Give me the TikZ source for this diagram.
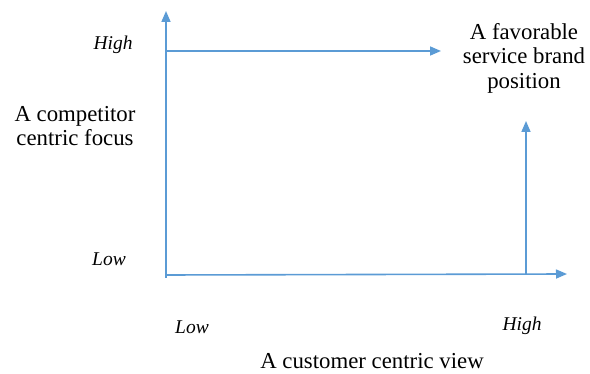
\documentclass[tikz,border=0pt]{standalone}
\usepackage{fontspec}
\setmainfont{Liberation Serif}
\usetikzlibrary{arrows.meta}
\definecolor{axisblue}{RGB}{91,155,213}
\tikzset{
  axisline/.style={draw=axisblue, line width=1.6pt, -{Triangle[length=11pt,width=9pt]}},
  bigtext/.style={font=\fontsize{22.8}{24.5}\selectfont, align=center, inner sep=0pt},
  smalltext/.style={font=\fontsize{19.5}{21}\selectfont\itshape, inner sep=0pt}
}
\begin{document}
\begin{tikzpicture}[x=1pt,y=-1pt]
\useasboundingbox (0,0) rectangle (590,374);
\coordinate (vb) at (166,278);
\coordinate (vt) at (166,11);
\coordinate (hl) at (166,275);
\coordinate (hr) at (567,274);
\coordinate (tl) at (166,51);
\coordinate (tr) at (441,51);
\coordinate (rb) at (526,274);
\coordinate (rt) at (526,121);
\draw[axisline] (vb) -- (vt);
\draw[axisline] (hl) -- (hr);
\draw[axisline] (tl) -- (tr);
\draw[axisline] (rb) -- (rt);
\node[smalltext] (yhigh) at (113,45) {High};
\node[smalltext] (ylow) at (109,259) {Low};
\node[smalltext] (xlow) at (192,327) {Low};
\node[smalltext] (xhigh) at (522,326) {High};
\node[bigtext] (ylabel) at (75,126) {A competitor\\centric focus};
\node[bigtext] (fav) at (524,58) {A favorable\\service brand\\position};
\node[bigtext] (xlabel) at (372,361) {A customer centric view};
\end{tikzpicture}
\end{document}
